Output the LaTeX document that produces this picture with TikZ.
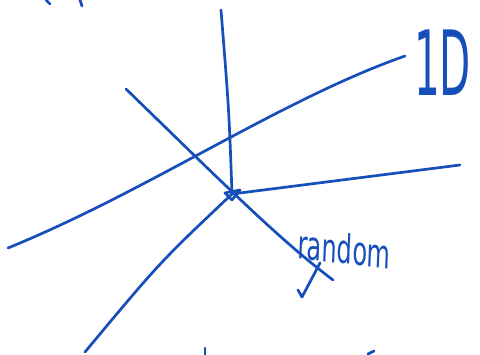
\documentclass[tikz,border=0pt]{standalone}
\usepackage{fontspec}
\setmainfont{DejaVu Sans}
\definecolor{inkblue}{RGB}{22,78,186}
\tikzset{
  ink/.style={draw=inkblue,line width=2.7pt,line cap=round,line join=round},
  scrawl/.style={text=inkblue,inner sep=0pt,font=\itshape}
}
\begin{document}
\begin{tikzpicture}[x=1pt,y=-1pt]
  \useasboundingbox (0,0) rectangle (480,355);
  % meeting point of the lines
  \coordinate (o) at (232,194);
  \coordinate (up) at (221,10);
  \coordinate (right) at (460,165);
  \coordinate (low) at (85,352);
  \coordinate (rndA) at (126,89);
  \coordinate (rndB) at (333,280);
  \coordinate (lineA) at (8,248);
  \coordinate (lineB) at (405,56);
  % lines from the centre
  \draw[ink] (o) .. controls (229,110) .. (up);
  \draw[ink] (o) -- (right);
  \draw[ink] (o) .. controls (160,262) .. (low);
  \draw[ink] (225,193) -- (240,190) -- (232,200) -- cycle;
  % the two crossing lines
  \draw[ink] (rndA) .. controls (230,190) and (280,240) .. (rndB);
  \draw[ink] (lineA) .. controls (150,190) and (280,100) .. (lineB);
  % labels
  \node[scrawl,font=\fontsize{90}{90}\selectfont,xscale=0.45,anchor=south west] (tag1d) at (414,96) {1D};
  \node[scrawl,font=\fontsize{40}{40}\selectfont,xscale=0.6,rotate=-4,anchor=south west] (tagrnd) at (297,259) {random};
  \draw[ink] (320,263) .. controls (310,282) .. (302,297) -- (298,290);
  % cut-off strokes at the edges
  \draw[ink] (46,0) -- (50,4);
  \draw[ink] (80,0) -- (82,6);
  \draw[ink] (205,348) -- (205,355);
  \draw[ink] (368,354) -- (374,351);
\end{tikzpicture}
\end{document}
